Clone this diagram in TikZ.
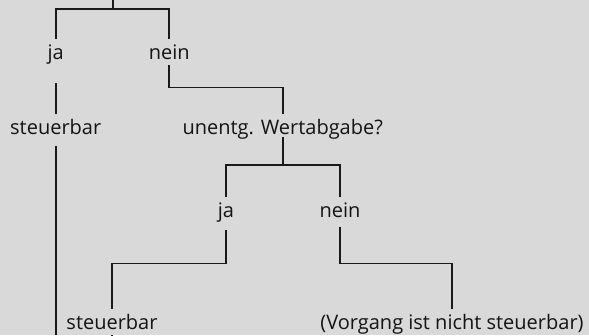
\documentclass[tikz,border=0pt]{standalone}
\usepackage{fontspec}
\setsansfont{Open Sans}
\usepackage{xcolor}
\newcommand{\treewidth}{589pt}
\newcommand{\treeheight}{335pt}
\definecolor{treebg}{HTML}{D9D9D9}
\definecolor{linecolor}{HTML}{1A1A1A}
\definecolor{labelcolor}{HTML}{141414}

\begin{document}
\begin{tikzpicture}[
    answer/.style={inner sep=0pt, text height=11pt, text depth=0pt, minimum height=29pt,
      font=\sffamily\fontsize{20}{23}\selectfont\color{labelcolor}},
    branch/.style={draw=linecolor, line width=1.7pt}
  ]
  \fill[treebg] (0,0) rectangle (\treewidth, -\treeheight);
  \useasboundingbox (0,0) rectangle (\treewidth, -\treeheight);

  % === FIRST QUESTION ===
  \coordinate (top) at (112.7pt, 0pt);
  \coordinate (split1) at (112.7pt, -9.3pt);
  \node[answer] (ja1) at (55.7pt, -53.5pt) {ja};
  \node[answer] (nein1) at (169.3pt, -53.5pt) {nein};
  \node[answer] (steuer1) at (55.7pt, -129pt) {steuerbar};
  \node[answer] (wert) at (282.7pt, -129pt) {unentg. Wertabgabe?};
  \coordinate (bottom1) at (55.7pt, -\treeheight);

  \draw[branch] (top) -- (split1);
  \draw[branch] (ja1.north) |- (split1) -| (nein1.north);
  \draw[branch, shorten <=-3pt] (nein1.south) -- ++(0,-19.3pt) -| (wert.north);
  \draw[branch, shorten <=15pt] (ja1.south) -- (steuer1.north);
  \draw[branch, shorten <=2.2pt] (steuer1.south) -- (bottom1);

  % === SECOND QUESTION ===
  \coordinate (split2) at (282.7pt, -165pt);
  \node[answer] (ja2) at (226pt, -212pt) {ja};
  \node[answer] (nein2) at (340pt, -212pt) {nein};
  \node[answer] (steuer2) at (112pt, -323.5pt) {steuerbar};
  \node[answer] (nicht) at (452pt, -323.5pt) {(Vorgang ist nicht steuerbar)};
  \coordinate (bottom2) at (112pt, -\treeheight);

  \draw[branch, shorten <=-6.5pt] (wert.south) -- (split2);
  \draw[branch] (ja2.north) |- (split2) -| (nein2.north);
  \draw[branch, shorten <=3.5pt] (ja2.south) -- ++(0,-36.8pt) -| (steuer2.north);
  \draw[branch] (nein2.south) -- ++(0,-36.8pt) -| (nicht.north);
  \draw[branch, shorten <=-5pt] (steuer2.south) -- (bottom2);
\end{tikzpicture}
\end{document}
